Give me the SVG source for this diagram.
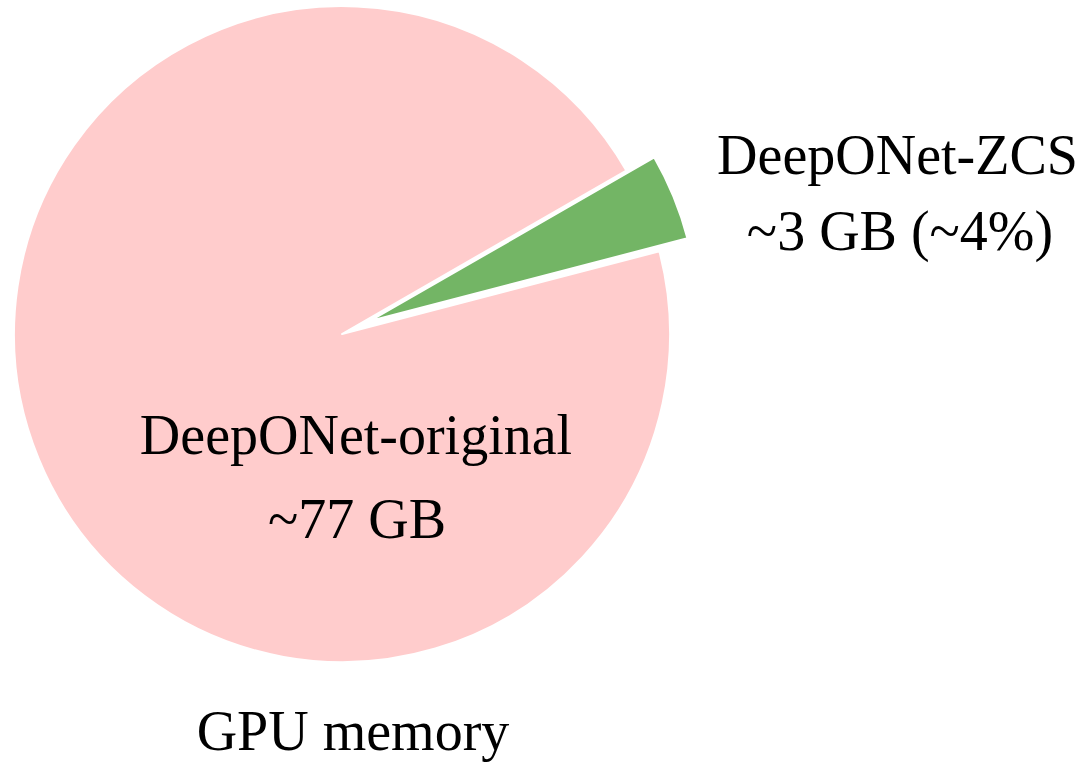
<svg xmlns="http://www.w3.org/2000/svg" width="1086" height="762" viewBox="0 0 1086 762">
<style>
.lbl{font-family:"Liberation Serif","DejaVu Serif",serif;font-size:56px;fill:#000;text-anchor:middle}
.slice{stroke:#fff;stroke-width:2;stroke-linejoin:round}
</style>
<rect width="1086" height="762" fill="#fff"/>
<g id="slice-original">
<path class="slice" fill="#FFCCCC" d="M342,334 L626.3,170.5 A328,328 0 1 0 659.4,251.3 Z"/>
<text class="lbl" x="356" y="454">DeepONet-original</text>
<text class="lbl" x="357" y="538">~77 GB</text>
</g>
<g id="slice-zcs">
<path class="slice" fill="#73B565" transform="translate(28,-13)" d="M342,334 L659.4,251.3 A328,328 0 0 0 626.3,170.5 Z"/>
<text class="lbl" x="897.5" y="174">DeepONet-ZCS</text>
<text class="lbl" x="900" y="250">~3 GB (~4%)</text>
</g>
<g id="title">
<text class="lbl" x="353" y="750">GPU memory</text>
</g>
<g id="connectors"></g>
</svg>
